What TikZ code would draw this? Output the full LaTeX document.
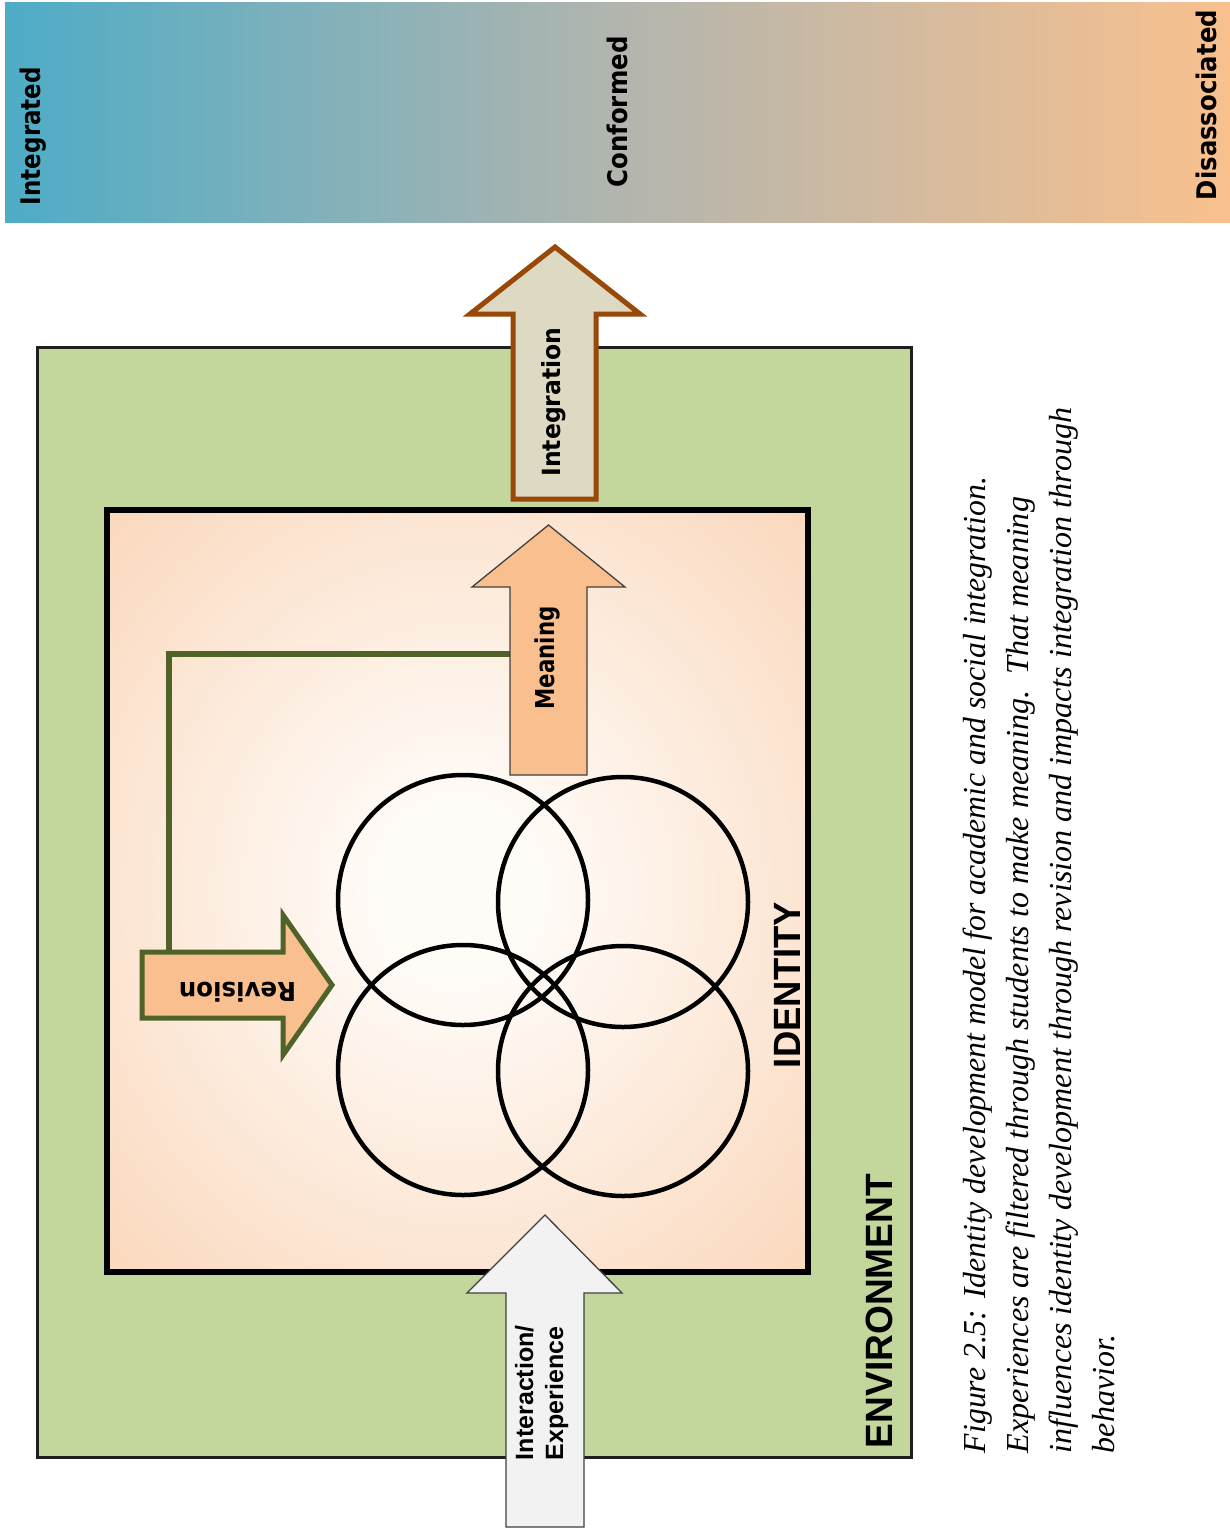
\documentclass[tikz,border=0pt]{standalone}
\usepackage{fontspec}
\setmainfont{Liberation Serif}
\newfontfamily\vfont{DejaVu Sans}
\newfontfamily\afont{Liberation Sans}

\definecolor{barL}{RGB}{78,172,199}
\definecolor{barM}{RGB}{178,181,174}
\definecolor{barR}{RGB}{249,192,142}
\definecolor{envgreen}{RGB}{195,214,155}
\definecolor{idedge}{RGB}{249,206,172}
\definecolor{idcore}{RGB}{255,251,247}
\definecolor{peach}{RGB}{249,191,143}
\definecolor{olive}{RGB}{79,98,40}
\definecolor{intfill}{RGB}{221,217,195}
\definecolor{intedge}{RGB}{152,72,7}
\definecolor{expfill}{RGB}{242,242,242}
\definecolor{thinedge}{RGB}{64,64,64}

% stretch or squeeze a label to a given run length, keeping its height
\newcommand\fitto[2]{\resizebox{#1}{\height}{#2}}

\pgfdeclareradialshading{idglow}{\pgfpoint{0bp}{0bp}}{%
  color(0bp)=(idcore); color(6bp)=(idcore); color(44bp)=(idedge); color(80bp)=(idedge)}

\tikzset{
  txt/.style={inner sep=0pt, outer sep=0pt, anchor=base},
  barlbl/.style={txt, rotate=90, font=\vfont\bfseries\fontsize{27}{30}\selectfont},
  arrlbl/.style={txt, font=\vfont\bfseries\fontsize{26}{30}\selectfont},
  biglbl/.style={txt, rotate=90, font=\afont\bfseries\fontsize{38}{42}\selectfont},
  caplbl/.style={txt, anchor=base west, rotate=90, font=\itshape\fontsize{32}{36}\selectfont},
  envbox/.style={fill=envgreen, draw=black!88, line width=3pt},
  idbox/.style={shading=idglow, draw=black, line width=6pt},
  ring/.style={draw=black, line width=4.5pt},
  meaningarrow/.style={fill=peach, draw=thinedge, line width=1.3pt, line join=miter},
  experiencearrow/.style={fill=expfill, draw=thinedge, line width=1.3pt, line join=miter},
  integrationarrow/.style={fill=intfill, draw=intedge, line width=5pt, line join=miter},
  revisionarrow/.style={fill=peach, draw=olive, line width=5pt, line join=miter},
  revline/.style={draw=olive, line width=5.5pt},
}

\begin{document}
\begin{tikzpicture}[x=1pt,y=-1pt]
\useasboundingbox (0,0) rectangle (1230,1531);
\fill[white] (0,0) rectangle (1230,1531);

% integration scale
\shade[left color=barL, right color=barR, middle color=barM] (5,2) rectangle (1230,222);
\node[barlbl] (integrated)   at (40,136)   {\fitto{138pt}{Integrated}};
\node[barlbl] (conformed)    at (627,112)  {\fitto{151pt}{Conformed}};
\node[barlbl] (disassociated) at (1216,105) {\fitto{190pt}{Disassociated}};

% environment and identity frames
\filldraw[envbox] (37,347) rectangle (911,1457);
\shadedraw[idbox] (107,510) rectangle (808,1272);

% four overlapping circles
\draw[ring] (463,900) circle[radius=125pt];
\draw[ring] (623,902) circle[radius=125pt];
\draw[ring] (463,1070) circle[radius=125pt];
\draw[ring] (623,1071) circle[radius=125pt];

\node[biglbl] (identity)    at (800,985)  {\fitto{166pt}{IDENTITY}};
\node[biglbl] (environment) at (892,1311) {\fitto{274pt}{ENVIRONMENT}};

% feedback path from meaning back to revision
\coordinate (meaningport)  at (510,654);
\coordinate (revisionport) at (169,952);
\draw[revline] (meaningport) -| (revisionport);

% meaning arrow
\filldraw[meaningarrow] (510,775) -- (510,587) -- (472,587) -- (548.5,525)
  -- (625,587) -- (587,587) -- (587,775) -- cycle;
\node[arrlbl, rotate=90] (meaning) at (554,658) {\fitto{103pt}{Meaning}};

% revision arrow
\filldraw[revisionarrow] (142,952) -- (283,952) -- (283,915) -- (332,985)
  -- (283,1055) -- (283,1018) -- (142,1018) -- cycle;
\node[arrlbl, rotate=180] (revision) at (237.5,982) {\fitto{117pt}{Revision}};

% integration arrow
\filldraw[integrationarrow] (513,499) -- (513,314) -- (470,314) -- (555,247)
  -- (640,314) -- (596,314) -- (596,499) -- cycle;
\node[arrlbl, rotate=90, font=\vfont\bfseries\fontsize{25}{30}\selectfont] (integration) at (560,402) {\fitto{149pt}{Integration}};

% interaction / experience arrow
\filldraw[experiencearrow] (506,1527) -- (506,1293) -- (467,1293) -- (545,1215)
  -- (622,1293) -- (584,1293) -- (584,1527) -- cycle;
\node[txt, anchor=base west, rotate=90, font=\afont\bfseries\fontsize{25}{30}\selectfont] (interaction) at (533,1460) {Interaction/};
\node[txt, anchor=base west, rotate=90, font=\afont\bfseries\fontsize{25}{30}\selectfont] (experience) at (563,1460) {Experience};

% caption
\node[caplbl] (cap1) at (985,1453)  {\fitto{976pt}{Figure 2.5: Identity development model for academic and social integration.}};
\node[caplbl] (cap2) at (1028,1453) {\fitto{956pt}{Experiences are filtered through students to make meaning.\ \ That meaning}};
\node[caplbl] (cap3) at (1071,1453) {\fitto{1045pt}{influences identity development through revision and impacts integration through}};
\node[caplbl] (cap4) at (1114,1453) {behavior.};
\end{tikzpicture}
\end{document}
